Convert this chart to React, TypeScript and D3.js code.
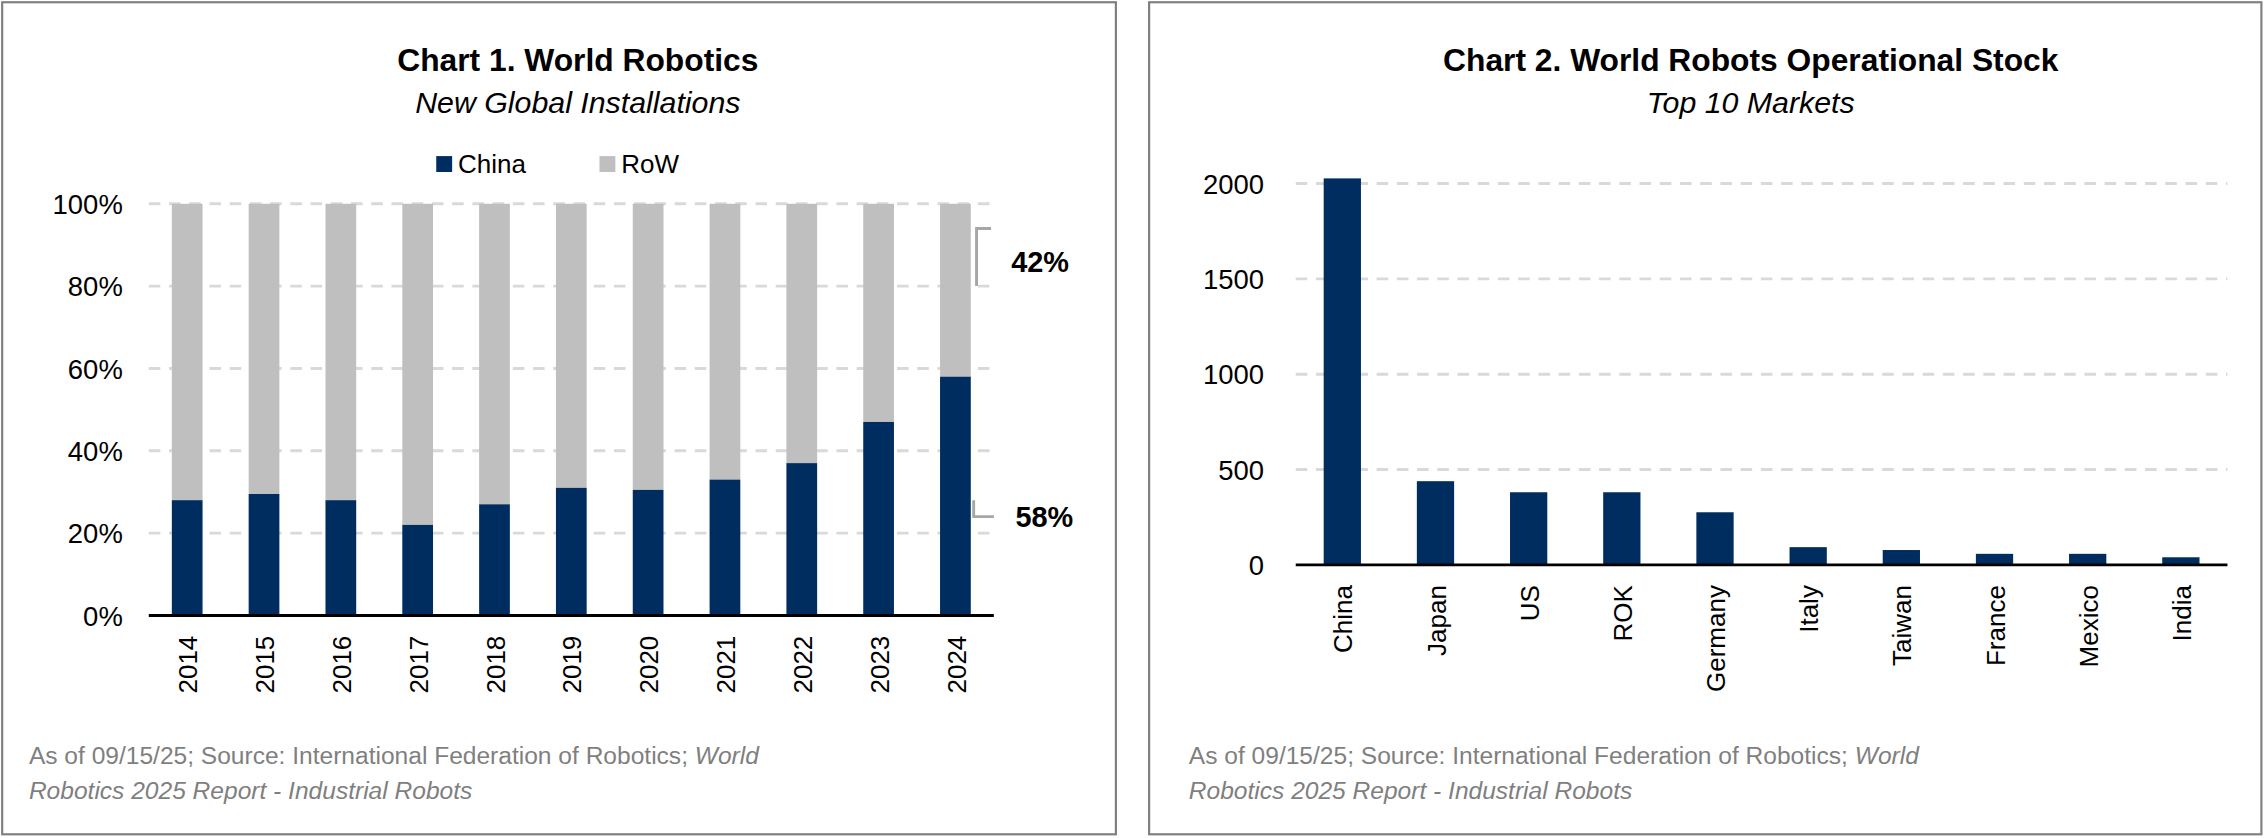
import React from 'react';
import * as d3 from 'd3';

const years = ['2014', '2015', '2016', '2017', '2018', '2019', '2020', '2021', '2022', '2023', '2024'];
const chinaShare = [28, 29.5, 28, 22, 27, 31, 30.5, 33, 37, 47, 58];
const shareTicks = [0, 20, 40, 60, 80, 100];

const markets = ['China', 'Japan', 'US', 'ROK', 'Germany', 'Italy', 'Taiwan', 'France', 'Mexico', 'India'];
const stock = [2027, 439, 381, 381, 276, 93, 78, 58, 58, 40];
const stockTicks = [0, 500, 1000, 1500, 2000];

const NAVY = '#002d5f';
const GRAY = '#bfbfbf';
const GRID = '#d9d9d9';
const FONT = '"Liberation Sans Narrow", "Liberation Sans", Arial, sans-serif';
const FOOT = '#7f7f7f';

const Footer: React.FC<{ x: number }> = ({ x }) => (
  <g fontFamily='"Liberation Sans", Arial, sans-serif' fontSize={17} fill={FOOT}>
    <text x={x} y={529}>As of 09/15/25; Source: International Federation of Robotics; <tspan fontStyle="italic">World</tspan></text>
    <text x={x} y={553} fontStyle="italic">Robotics 2025 Report  - Industrial Robots</text>
  </g>
);

const App: React.FC = () => {
  // chart 1
  const x1 = d3.scaleBand().domain(years).range([103, 688]).paddingInner(0.6).paddingOuter(0.3);
  const y1 = d3.scaleLinear().domain([0, 100]).range([426, 141]);
  const last = chinaShare[chinaShare.length - 1];
  const lx = (x1('2024') || 0) + x1.bandwidth();

  // chart 2
  const x2 = d3.scaleBand().domain(markets).range([897, 1542]).paddingInner(0.6).paddingOuter(0.3);
  const y2 = d3.scaleLinear().domain([0, 2000]).range([391, 127]);

  return (
    <svg width={2265} height={838} viewBox="0 0 1568 580" style={{ position: 'absolute', left: 0, top: 0, background: '#fff' }}>
      <rect x={1.5} y={1.5} width={771} height={576} fill="none" stroke="#7f7f7f" strokeWidth={1.5} />
      <rect x={795.5} y={1.5} width={770} height={576} fill="none" stroke="#7f7f7f" strokeWidth={1.5} />

      {/* Chart 1 */}
      <g fontFamily={FONT}>
        <text x={400} y={49} textAnchor="middle" fontWeight="bold" fontSize={22}>Chart 1. World Robotics</text>
        <text x={400} y={78} textAnchor="middle" fontStyle="italic" fontSize={21}>New Global Installations</text>
        <rect x={302} y={108} width={11} height={11} fill={NAVY} />
        <text x={317} y={120} fontSize={18}>China</text>
        <rect x={415} y={108} width={11} height={11} fill={GRAY} />
        <text x={430} y={120} fontSize={18}>RoW</text>
        {shareTicks.map(t => (
          <g key={t}>
            {t > 0 && <line x1={103} x2={688} y1={y1(t)} y2={y1(t)} stroke={GRID} strokeWidth={2} strokeDasharray="8,6" />}
            <text x={85} y={y1(t) + 7} textAnchor="end" fontSize={19}>{t}%</text>
          </g>
        ))}
        {years.map((yr, i) => (
          <g key={yr}>
            <rect x={x1(yr)} y={y1(100)} width={x1.bandwidth()} height={y1(chinaShare[i]) - y1(100)} fill={GRAY} />
            <rect x={x1(yr)} y={y1(chinaShare[i])} width={x1.bandwidth()} height={y1(0) - y1(chinaShare[i])} fill={NAVY} />
            <text transform={`translate(${(x1(yr) || 0) + x1.bandwidth() / 2 + 7},${y1(0) + 14}) rotate(-90)`} textAnchor="end" fontFamily='"Liberation Sans", Arial, sans-serif' fontSize={18}>{yr}</text>
          </g>
        ))}
        <line x1={103} x2={688} y1={y1(0)} y2={y1(0)} stroke="#000" strokeWidth={2} />
        <path d={`M${lx + 4},${y1(80)} V${y1(94)} H${lx + 14}`} fill="none" stroke="#a6a6a6" strokeWidth={2} />
        <text x={700} y={188} fontWeight="bold" fontSize={20}>{100 - last}%</text>
        <path d={`M${lx + 2},${y1(28)} V${y1(24)} H${lx + 16}`} fill="none" stroke="#a6a6a6" strokeWidth={2} />
        <text x={703} y={365} fontWeight="bold" fontSize={20}>{last}%</text>
      </g>
      <Footer x={20} />

      {/* Chart 2 */}
      <g fontFamily={FONT}>
        <text x={1212} y={49} textAnchor="middle" fontWeight="bold" fontSize={22}>Chart 2. World Robots Operational Stock</text>
        <text x={1212} y={78} textAnchor="middle" fontStyle="italic" fontSize={21}>Top 10 Markets</text>
        {stockTicks.map(t => (
          <g key={t}>
            {t > 0 && <line x1={897} x2={1542} y1={y2(t)} y2={y2(t)} stroke={GRID} strokeWidth={2} strokeDasharray="8,6" />}
            <text x={875} y={y2(t) + 7} textAnchor="end" fontSize={19}>{t}</text>
          </g>
        ))}
        {markets.map((m, i) => (
          <g key={m}>
            <rect x={x2(m)} y={y2(stock[i])} width={x2.bandwidth()} height={y2(0) - y2(stock[i])} fill={NAVY} />
            <text transform={`translate(${(x2(m) || 0) + x2.bandwidth() / 2 + 7},${y2(0) + 14}) rotate(-90)`} textAnchor="end" fontFamily='"Liberation Sans", Arial, sans-serif' fontSize={18}>{m}</text>
          </g>
        ))}
        <line x1={897} x2={1542} y1={y2(0)} y2={y2(0)} stroke="#000" strokeWidth={2} />
      </g>
      <Footer x={823} />
    </svg>
  );
};

export default App;
